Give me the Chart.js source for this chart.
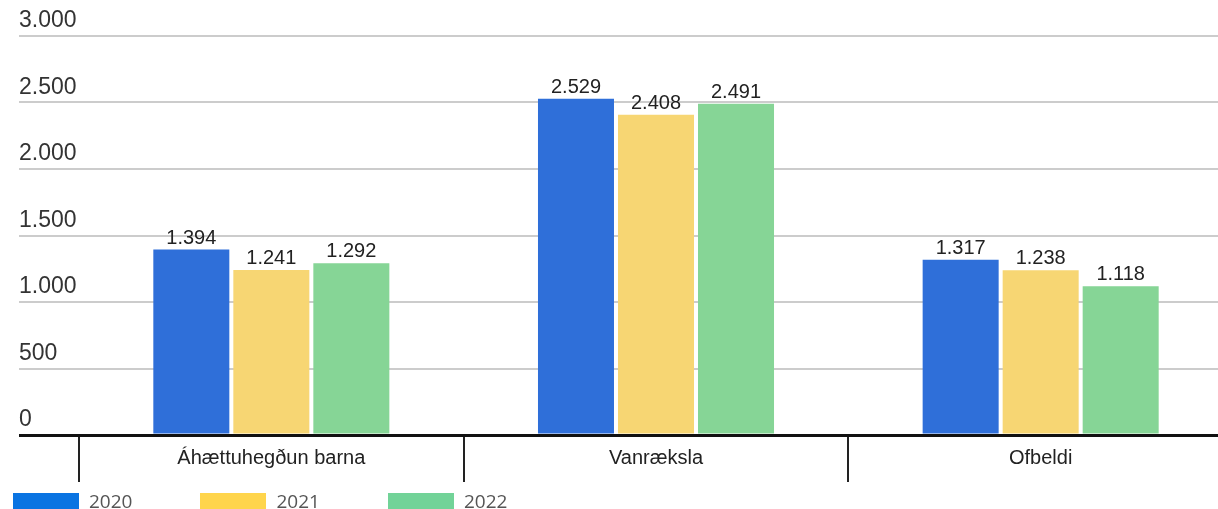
<!DOCTYPE html>
<html>
<head>
<meta charset="utf-8">
<script src="https://cdn.jsdelivr.net/npm/chart.js@4/dist/chart.umd.min.js"></script>
<style>
  html, body { margin: 0; padding: 0; background: #fff; overflow: hidden; }
  #wrap { position: relative; width: 1233px; height: 509px; }
  #legend { position: absolute; left: 13px; top: 493px; display: flex; font-family: "Open Sans", sans-serif; font-size: 19px; color: #555; }
  #legend .item { display: flex; align-items: flex-start; margin-right: 68px; }
  #legend .box { width: 66px; height: 22px; margin-right: 10px; }
  #legend span { line-height: 17px; }
</style>
</head>
<body>
<div id="wrap">
  <canvas id="chart"></canvas>
  <div id="legend"></div>
</div>
<script>
// DATA
const categories = ['Áhættuhegðun barna', 'Vanræksla', 'Ofbeldi'];
const years = ['2020', '2021', '2022'];
const values2020 = [1394, 2529, 1317];
const values2021 = [1241, 2408, 1238];
const values2022 = [1292, 2491, 1118];
const yMax = 3000;
const yStep = 500;

const barColors = ['#2f6fd9', '#f7d673', '#86d596'];
const legendColors = ['#0a74e2', '#ffd54c', '#72d398'];

// icelandic style thousands separator
function fmt(n) {
    return String(n).replace(/\B(?=(\d{3})+(?!\d))/g, '.');
}

const seriesValues = [values2020, values2021, values2022];
const datasets = years.map((y, i) => ({
    label: y,
    data: seriesValues[i],
    backgroundColor: barColors[i],
    borderWidth: 0,
    categoryPercentage: 0.624,
    barPercentage: 0.95
}));

// numbers above bars
const valueLabels = {
    id: 'valueLabels',
    afterDatasetsDraw(chart) {
        const ctx = chart.ctx;
        ctx.save();
        ctx.font = '20px "Liberation Sans", Arial, sans-serif';
        ctx.fillStyle = '#222';
        ctx.textAlign = 'center';
        ctx.textBaseline = 'alphabetic';
        chart.data.datasets.forEach((ds, i) => {
            chart.getDatasetMeta(i).data.forEach((bar, j) => {
                ctx.fillText(fmt(ds.data[j]), bar.x, bar.y - 6);
            });
        });
        ctx.restore();
    }
};

new Chart(document.getElementById('chart'), {
    type: 'bar',
    data: { labels: categories, datasets: datasets },
    options: {
        responsive: true,
        maintainAspectRatio: false,
        animation: false,
        layout: { padding: { top: 36, left: 0, right: 0, bottom: 27 } },
        plugins: {
            legend: { display: false },
            tooltip: { enabled: false }
        },
        scales: {
            x: {
                type: 'category',
                offset: true,
                border: { display: false },
                grid: {
                    offset: true,
                    drawOnChartArea: false,
                    drawTicks: true,
                    tickLength: 47,
                    color: '#222',
                    lineWidth: 2
                },
                ticks: {
                    color: '#222',
                    padding: -36,
                    font: { family: '"Liberation Sans", Arial, sans-serif', size: 20 }
                },
                afterFit(scale) { scale.height = 47; }
            },
            y: {
                min: 0,
                max: yMax,
                border: { display: false },
                grid: {
                    drawTicks: true,
                    tickLength: 60,
                    color: c => c.tick && c.tick.value === 0 ? '#111' : '#cccccc',
                    lineWidth: c => c.tick && c.tick.value === 0 ? 3 : 2
                },
                ticks: {
                    stepSize: yStep,
                    mirror: true,
                    padding: -60,
                    labelOffset: -15,
                    color: '#333',
                    font: { family: '"Liberation Sans", Arial, sans-serif', size: 23 },
                    callback: v => fmt(v)
                },
                afterFit(scale) { scale.width = 79; }
            }
        }
    },
    plugins: [valueLabels]
});

// legend under the chart
const legendEl = document.getElementById('legend');
years.forEach((y, i) => {
    const item = document.createElement('div');
    item.className = 'item';
    item.innerHTML = `<div class="box" style="background:${legendColors[i]}"></div><span>${y}</span>`;
    legendEl.appendChild(item);
});
</script>
</body>
</html>
